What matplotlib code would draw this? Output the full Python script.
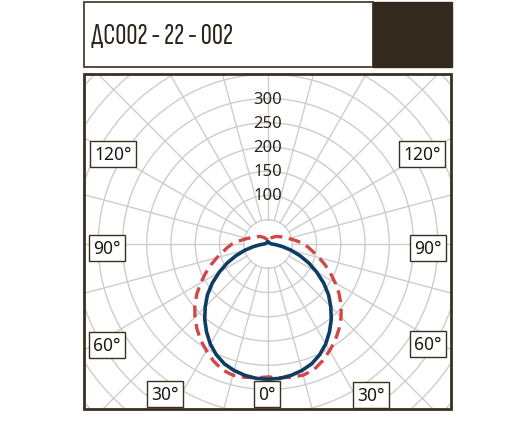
import numpy as np
import matplotlib.pyplot as plt
from matplotlib import font_manager
from matplotlib.textpath import text_to_path
from matplotlib.patches import Rectangle

title = 'ДС002 - 22 - 002'

# light distribution, cd (symmetric curves, angle from nadir)
blue_ang = [0, 5, 10, 15, 20, 25, 30, 35, 40, 45, 50, 55, 60, 65, 70, 75, 80, 85, 90,
            100, 120, 150, 180]
blue_cd = [279, 278, 275, 270, 263, 252, 238, 221, 203, 183, 163, 140, 116, 93, 70, 49, 30, 16, 8,
           5, 4, 3.5, 3.5]

red_ang = [0, 5, 10, 15, 20, 25, 30, 35, 40, 45, 50, 55, 60, 65, 70, 75, 80, 85, 90,
           95, 100, 105, 110, 120, 135, 150, 165, 180]
red_cd = [274, 277, 279, 280, 276, 266, 254, 242, 228, 213, 197, 179, 160, 142, 125, 109, 95, 84, 74,
          62, 52, 44, 38, 30, 22, 15, 10, 8]

ring_values = np.arange(50, 601, 50)
spoke_angles = np.arange(0, 360, 15)
radial_labels = [100, 150, 200, 250, 300]
angle_labels = ['0°', '30°', '30°', '60°', '60°', '90°', '90°', '120°', '120°']

# title face: the narrow regular face whose width comes closest to the reference
fonts = font_manager.fontManager.ttflist
narrow = [f for f in fonts if f.stretch == 'condensed' and f.style == 'normal'
          and f.weight in (400, 'normal', 'regular')]
best, best_err = None, None
for f in narrow:
    prop = font_manager.FontProperties(fname=f.fname, size=22)
    try:
        w = text_to_path.get_text_width_height_descent(title, prop, ismath=False)[0] * 100 / 72
    except Exception:
        continue
    err = abs(w - 150)
    if best_err is None or err < best_err:
        best, best_err, best_w = f, err, w
if best is not None:
    size = 22 if best_w < 175 else 22 * 165 / best_w
    title_font = font_manager.FontProperties(fname=best.fname, size=size)
else:
    title_font = font_manager.FontProperties(family='DejaVu Sans', size=15)

W, H = 523, 427
fig = plt.figure(figsize=(W / 100, H / 100), dpi=100)

def fx(px):
    return px / W

def fy(py):
    return 1 - py / H

# title block
fig.patches.append(Rectangle((fx(84), fy(68)), fx(373) - fx(84), fy(3) - fy(68),
                             transform=fig.transFigure, facecolor='white',
                             edgecolor='#4a4036', linewidth=1.3))
fig.patches.append(Rectangle((fx(373), fy(68)), fx(452) - fx(373), fy(3) - fy(68),
                             transform=fig.transFigure, facecolor='#33291d',
                             edgecolor='#33291d', linewidth=1))
fig.text(fx(91), fy(36), title, fontproperties=title_font,
         color='#2b2218', ha='left', va='center')

# polar plot
cx, cy = 268, 245
px_per_cd = 24.25 / 50
rmax = 400
rpx = rmax * px_per_cd
ax = fig.add_axes([fx(cx - rpx), fy(cy + rpx), 2 * rpx / W, 2 * rpx / H], projection='polar')
ax.set_theta_zero_location('S')
ax.set_rlim(0, rmax)
ax.set_axis_off()

frame = Rectangle((fx(84), fy(410)), fx(451) - fx(84), fy(75) - fy(410),
                  transform=fig.transFigure)

grid_kw = dict(color='#cdcdcd', linewidth=1.0, zorder=1)
t = np.linspace(0, 2 * np.pi, 721)
arts = []
for rv in ring_values:
    arts += ax.plot(t, np.full_like(t, rv), **grid_kw)
for a in spoke_angles:
    arts += ax.plot([np.radians(a)] * 2, [50, 700], **grid_kw)

def mirrored(ang, val):
    ang = np.radians(ang)
    return np.concatenate([-ang[::-1], ang[1:]]), np.concatenate([val[::-1], val[1:]])

bt, br = mirrored(np.array(blue_ang), np.array(blue_cd))
rt, rr = mirrored(np.array(red_ang), np.array(red_cd))
arts += ax.plot(rt, rr, color='#d04848', linewidth=2.4, dashes=(3.6, 2.0), zorder=3)
arts += ax.plot(bt, br, color='#0d3d63', linewidth=2.6, zorder=4)
for a in arts:
    a.set_clip_path(frame)

for v in radial_labels:
    ax.text(np.pi, v, str(v), ha='center', va='center', fontsize=12,
            family='Noto Sans', color='#2b2218', zorder=5)

fig.patches.append(Rectangle((fx(84), fy(410)), fx(451) - fx(84), fy(75) - fy(410),
                             transform=fig.transFigure, facecolor='none',
                             edgecolor='#3a3022', linewidth=2.0, zorder=10))

label_pos = [(267, 395), (165, 395), (371, 396), (107, 346), (428, 345),
             (107, 249), (428, 249), (113, 155), (422, 155)]
for txt, (x, y) in zip(angle_labels, label_pos):
    fig.text(fx(x), fy(y), txt, ha='center', va='center', fontsize=12.5,
             family='Noto Sans', color='#1e1810', zorder=11,
             bbox=dict(boxstyle='square,pad=0.22', facecolor='white',
                       edgecolor='#3a3022', linewidth=1.0))

fig.savefig('out.png', dpi=100)
